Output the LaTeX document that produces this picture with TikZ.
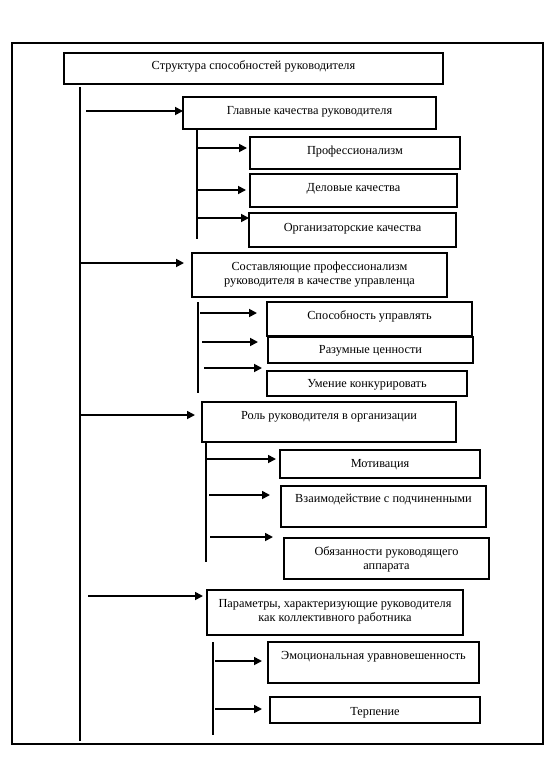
\documentclass[tikz,border=0pt]{standalone}
\usepackage{fontspec}
\setmainfont{Liberation Serif}
\usetikzlibrary{arrows.meta}
\tikzset{
  boxn/.style={draw, line width=1.1pt, anchor=north west, inner sep=0pt, outer sep=0pt},
  txt/.style={font=\fontsize{12.3}{14.2}\selectfont, inner sep=0pt, align=center},
  arr/.style={line width=1.7pt, -{Triangle[length=8pt,width=8pt]}},
  trunk/.style={line width=1.1pt},
  frame/.style={line width=1.1pt}
}
% name, x1, y1, x2, y2, text, text-centre y
\newcommand\mkbox[7]{%
  \node[boxn, minimum width={(#4-#2)*1pt}, minimum height={(#5-#3)*1pt}] (#1) at (#2,#3) {};
  \node[txt] (#1t) at ({(#2+#4)/2},{#7+1.5}) {#6};}
% start coordinate name, x, y, target node, gap before target
\newcommand\mkarrow[5]{%
  \coordinate (#1) at (#2,#3);
  \draw[arr, shorten >=#5pt] (#1) -- (#1 -| #4.west);}
\begin{document}
\begin{tikzpicture}[x=1pt,y=-1pt]
\useasboundingbox (0,0) rectangle (552,757);
\draw[frame] (12,43) rectangle (543,744);

\mkbox{title}{64}{53}{443}{84}{Структура способностей руководителя}{65}

\mkbox{b1}{183}{97}{436}{129}{Главные качества руководителя}{110}
\mkbox{p1}{250}{137}{460}{169}{Профессионализм}{150}
\mkbox{p2}{250}{174}{457}{207}{Деловые качества}{187}
\mkbox{p3}{249}{213}{456}{247}{Организаторские качества}{227}

\mkbox{b2}{192}{253}{447}{297}{Составляющие профессионализм\\руководителя в качестве управленца}{273}
\mkbox{s1}{267}{302}{472}{336}{Способность управлять}{315}
\mkbox{s2}{268}{337}{473}{363}{Разумные ценности}{349}
\mkbox{s3}{267}{371}{467}{396}{Умение конкурировать}{383}

\mkbox{b3}{202}{402}{456}{442}{Роль руководителя в организации}{415}
\mkbox{r1}{280}{450}{480}{478}{Мотивация}{463}
\mkbox{r2}{281}{486}{486}{527}{Взаимодействие с подчиненными}{498}
\mkbox{r3}{284}{538}{489}{579}{Обязанности руководящего\\аппарата}{558}

\mkbox{b4}{207}{590}{463}{635}{Параметры, характеризующие руководителя\\как коллективного работника}{610}
\mkbox{e1}{268}{642}{479}{683}{Эмоциональная уравновешенность}{655}
\mkbox{e2}{270}{697}{480}{723}{Терпение}{711}

% trunks
\coordinate (m0) at (80,87);  \coordinate (m1) at (80,741);
\draw[trunk] (m0) -- (m1);
\coordinate (v1a) at (197,129); \coordinate (v1b) at (197,239);
\draw[trunk] (v1a) -- (v1b);
\coordinate (v2a) at (198,302); \coordinate (v2b) at (198,393);
\draw[trunk] (v2a) -- (v2b);
\coordinate (v3a) at (206,442); \coordinate (v3b) at (206,562);
\draw[trunk] (v3a) -- (v3b);
\coordinate (v4a) at (213,642); \coordinate (v4b) at (213,735);
\draw[trunk] (v4a) -- (v4b);

% arrows
\mkarrow{a1}{86}{111}{b1}{0}
\mkarrow{a11}{197}{148}{p1}{3}
\mkarrow{a12}{197}{190}{p2}{4}
\mkarrow{a13}{198}{218}{p3}{0}

\mkarrow{a2}{81}{263}{b2}{8}
\mkarrow{a21}{200}{313}{s1}{10}
\mkarrow{a22}{202}{342}{s2}{10}
\mkarrow{a23}{204}{368}{s3}{5}

\mkarrow{a3}{80}{415}{b3}{7}
\mkarrow{a31}{207}{459}{r1}{4}
\mkarrow{a32}{209}{495}{r2}{11}
\mkarrow{a33}{210}{537}{r3}{11}

\mkarrow{a4}{88}{596}{b4}{4}
\mkarrow{a41}{215}{661}{e1}{6}
\mkarrow{a42}{215}{709}{e2}{8}
\end{tikzpicture}
\end{document}
